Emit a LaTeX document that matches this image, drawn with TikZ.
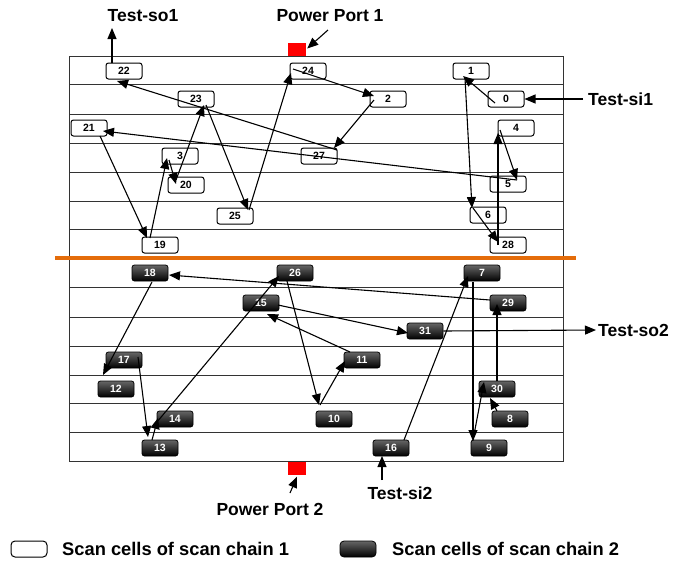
\documentclass[tikz,border=0pt]{standalone}
\usepackage{fontspec}
\setmainfont{Liberation Sans}
\usetikzlibrary{arrows.meta,calc}
\definecolor{sepor}{RGB}{228,108,10}
\begin{document}
\begin{tikzpicture}[x=1pt,y=-1pt,
  wcell/.style={draw=black, line width=1pt, fill=white, rounded corners=2.5pt, minimum width=36pt, minimum height=16pt, inner sep=0pt, font=\fontsize{10.5}{10}\selectfont\bfseries},
  dcell/.style={draw=black, line width=0.8pt, top color=black!60, bottom color=black, rounded corners=2.5pt, minimum width=36pt, minimum height=16pt, inner sep=0pt, text=white, font=\fontsize{10.5}{10}\selectfont\bfseries},
  gridline/.style={draw=black!80, line width=0.9pt},
  conn/.style={line width=1.1pt, -{Triangle[length=11pt,width=9pt]}},
  lbl/.style={font=\fontsize{17.5}{18}\selectfont\bfseries, inner sep=0pt},
  lgd/.style={font=\fontsize{18.3}{19}\selectfont\bfseries, inner sep=0pt},
  port/.style={fill=red, draw=none, minimum width=18pt, minimum height=13pt, inner sep=0pt}
]
\path[use as bounding box] (0,0) rectangle (689,563);
% grid
\draw[gridline] (69,56) rectangle (563,461);
\foreach \yy in {84,114,143,172,201,229,287,317,346,375,403,432}
  \draw[gridline] (69,\yy) -- (563,\yy);
\draw[line width=4pt, sepor] (55,258) -- (576,258);
% power ports
\node[port] (port1) at (297,49.5) {};
\node[port] (port2) at (297,468) {};
% white cells (scan chain 1)
\node[wcell] (c22) at (124,71) {22};
\node[wcell] (c24) at (308,71) {24};
\node[wcell] (c1)  at (471,71) {1};
\node[wcell] (c23) at (196,99) {23};
\node[wcell] (c2)  at (388,99) {2};
\node[wcell] (c0)  at (506,99) {0};
\node[wcell] (c21) at (89,128) {21};
\node[wcell] (c4)  at (516,128) {4};
\node[wcell] (c3)  at (180,156) {3};
\node[wcell] (c27) at (319,156) {27};
\node[wcell] (c20) at (186,185) {20};
\node[wcell] (c5)  at (508,184) {5};
\node[wcell] (c25) at (235,216) {25};
\node[wcell] (c6)  at (488,215) {6};
\node[wcell] (c19) at (160,245) {19};
\node[wcell] (c28) at (508,245) {28};
% dark cells (scan chain 2)
\node[dcell] (d18) at (150,273) {18};
\node[dcell] (d26) at (295,273) {26};
\node[dcell] (d7)  at (482,273) {7};
\node[dcell] (d15) at (261,303) {15};
\node[dcell] (d29) at (508,303) {29};
\node[dcell] (d31) at (425,331) {31};
\node[dcell] (d17) at (124,360) {17};
\node[dcell] (d11) at (362,360) {11};
\node[dcell] (d12) at (116,389) {12};
\node[dcell] (d30) at (497,389) {30};
\node[dcell] (d14) at (175,419) {14};
\node[dcell] (d10) at (334,419) {10};
\node[dcell] (d8)  at (510,419) {8};
\node[dcell] (d13) at (160,448) {13};
\node[dcell] (d16) at (391,448) {16};
\node[dcell] (d9)  at (489,448) {9};
% labels
\node[lbl] (tso1) at (143,16) {Test-so1};
\node[lbl] (pp1) at (330,16) {Power Port 1};
\node[lbl, anchor=west] (tsi1) at (588,99) {Test-si1};
\node[lbl, anchor=west] (tso2) at (598,330) {Test-so2};
\node[lbl] (tsi2) at (400,493) {Test-si2};
\node[lbl] (pp2) at (270,509) {Power Port 2};
\coordinate (so1tip) at (112,28);
\coordinate (pp1tail) at (328,30);
\coordinate (pp2tail) at (290,493);
\coordinate (si2tail) at (382,480);
% chain 1
\draw[conn] ([xshift=-5pt]tsi1.west) -- (c0.east);
\draw[conn] ($(c0)+(-11,4)$) -- ($(c1)+(-8,5)$);
\draw[conn] ($(c1)+(-6,7)$) -- ($(c6)+(-16,-7)$);
\draw[conn] ($(c6)+(-15,-7)$) -- ($(c28)+(-10,-3)$);
\draw[conn] ($(c28)+(-10,0)$) -- ($(c4)+(-18,5)$);
\draw[conn] ($(c4)+(-16,2)$) -- ($(c5)+(9,-4)$);
\draw[conn] ($(c5)+(9,-4)$) -- ($(c21)+(14,3)$);
\draw[conn] ($(c21)+(11,8)$) -- ($(c19)+(-13,-7)$);
\draw[conn] ($(c19)+(-10,-7)$) -- ($(c3)+(-13,2)$);
\draw[conn] ($(c3)+(-11,4)$) -- ($(c20)+(-10,-1)$);
\draw[conn] ($(c20)+(-10,-5)$) -- ($(c23)+(8,6)$);
\draw[conn] ($(c23)+(10,6)$) -- ($(c25)+(13,-6)$);
\draw[conn] ($(c25)+(14,-6)$) -- ($(c24)+(-17,2)$);
\draw[conn] ($(c24)+(-15,-2)$) -- ($(c2)+(-14,-3)$);
\draw[conn] ($(c2)+(-14,1)$) -- ($(c27)+(15,-8)$);
\draw[conn] ($(c27)+(18,-6)$) -- ($(c22)+(-7,10)$);
\draw[conn] ($(c22)+(-12,-8)$) -- (so1tip);
% chain 2
\draw[conn] (si2tail) -- ($(d16)+(-9,8)$);
\draw[conn] ($(d16)+(13,-8)$) -- ($(d7)+(-14,3)$);
\draw[conn] ($(d7)+(-9,9)$) -- ($(d9)+(-16,-7)$);
\draw[conn] ($(d9)+(-16,-8)$) -- ($(d30)+(-13,-7)$);
\draw[conn] ($(d8)+(-13,-8)$) -- ($(d30)+(-7,9)$);
\draw[conn] ($(d30)+(0,-8)$) -- ($(d29)+(-11,1)$);
\draw[conn] ($(d29)+(-18,-3)$) -- ($(d18)+(19,2)$);
\draw[conn] ($(d18)+(2,9)$) -- ($(d12)+(-13,-14)$);
\draw[conn] ($(d17)+(14,-3)$) -- ($(d13)+(-12,-11)$);
\draw[conn] ($(d13)+(-8,-8)$) -- ($(d14)+(-17,-1)$);
\draw[conn] ($(d14)+(-18,3)$) -- ($(d26)+(-16,3)$);
\draw[conn] ($(d26)+(-8,8)$) -- ($(d10)+(-15,-14)$);
\draw[conn] ($(d10)+(-14,-14)$) -- ($(d11)+(-17,1)$);
\draw[conn] ($(d11)+(-12,-8)$) -- ($(d15)+(6,11)$);
\draw[conn] ($(d15)+(17,2)$) -- ($(d31)+(-17,2)$);
\draw[conn] (d31.east) -- ([xshift=-2pt]tso2.west);
% power port arrows
\draw[conn] (pp1tail) -- ($(port1.east)+(1,-1)$);
\draw[conn] (pp2tail) -- ($(port2.south)+(0,2)$);
% legend
\node[wcell, rounded corners=4pt] (lg1) at (29,549) {};
\node[lgd, anchor=west] (lgt1) at (62,549) {Scan cells of scan chain 1};
\node[dcell, rounded corners=4pt] (lg2) at (358,549) {};
\node[lgd, anchor=west] (lgt2) at (392,549) {Scan cells of scan chain 2};
\end{tikzpicture}
\end{document}
